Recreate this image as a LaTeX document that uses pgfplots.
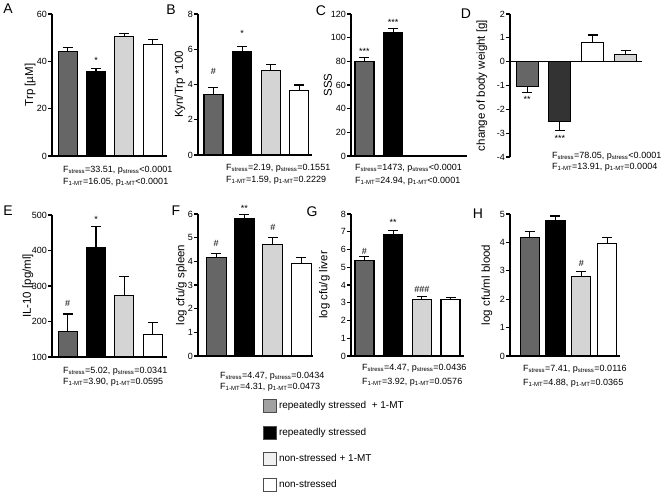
\documentclass[border=0pt]{standalone}
\usepackage{fontspec}
\setmainfont{Liberation Sans}
\usepackage{pgfplots}
\pgfplotsset{compat=1.18}

\definecolor{barA}{gray}{0.40}
\definecolor{barC}{gray}{0.83}
\definecolor{barDk}{gray}{0.20}
\definecolor{legA}{gray}{0.63}
\definecolor{legC}{gray}{0.94}

\pgfplotsset{
  panel/.style={
    scale only axis, height=142pt, anchor=south west,
    axis x line*=bottom, axis y line*=left,
    xtick=\empty, ymin=0,
    tick align=outside, major tick length=4pt,
    axis line style={line width=1.1pt, black},
    ytick style={line width=1.1pt, black},
    tick label style={font=\fontsize{9}{9}\selectfont},
    yticklabel style={inner sep=1pt},
    ylabel style={font=\fontsize{11.5}{12}\selectfont, anchor=center},
    /pgf/number format/assume math mode=true,
    clip mode=individual,
  },
  ylab/.style={ylabel style={at={(axis description cs:#1,0.5)}}},
  gbar/.style={
    ybar, bar shift=0pt, draw=black, line width=1.1pt, fill=#1,
    error bars/y dir=plus, error bars/y explicit,
    error bars/error bar style={line width=1.1pt, black},
    error bars/error mark options={rotate=90, line width=1.1pt, black, mark size=5pt},
  },
  gneg/.style={gbar=#1, error bars/y dir=minus},
}
\tikzset{
  note/.style={font=\fontsize{9}{9}\selectfont, inner sep=0pt},
  ftext/.style={font=\fontsize{9}{10}\selectfont, anchor=west, inner sep=0pt},
  letter/.style={font=\fontsize{14}{14}\selectfont, inner sep=0pt},
}

\begin{document}
\begin{tikzpicture}
\useasboundingbox (0,0) rectangle (661pt,-494pt);

% A
\begin{axis}[panel, at={(52pt,-156pt)}, width=115pt, xmin=0.45, xmax=4.5,
  ymax=60, ytick={0,20,40,60}, ylabel={Trp [µM]}, ylab=-0.191, bar width=19pt]
\addplot[gbar=barA] coordinates {(1,44.3) +- (0,1.4)};
\addplot[gbar=black] coordinates {(2,35.7) +- (0,1.3)};
\addplot[gbar=barC] coordinates {(3,50.4) +- (0,1.3)};
\addplot[gbar=white] coordinates {(4,47.2) +- (0,2.1)};
\node[note] at (axis cs:2,40.5) {*};
\end{axis}

% B
\begin{axis}[panel, at={(198pt,-155pt)}, width=114pt, height=141pt, xmin=0.46, xmax=4.44,
  ymax=8, ytick={0,2,4,6,8}, ylabel={Kyn/Trp *100}, ylab=-0.158, bar width=19pt]
\addplot[gbar=barA] coordinates {(1,3.44) +- (0,0.4)};
\addplot[gbar=black] coordinates {(2,5.86) +- (0,0.32)};
\addplot[gbar=barC] coordinates {(3,4.78) +- (0,0.37)};
\addplot[gbar=white] coordinates {(4,3.65) +- (0,0.32)};
\node[note] at (axis cs:1,4.77) {\#};
\node[note] at (axis cs:2,6.9) {*};
\end{axis}

% C
\begin{axis}[panel, at={(351pt,-156pt)}, width=116pt, xmin=0.53, xmax=4.57,
  ymax=120, ytick={0,20,...,120}, ylabel={SSS}, ylab=-0.198, bar width=19pt]
\addplot[gbar=barA] coordinates {(1,80) +- (0,3.5)};
\addplot[gbar=black] coordinates {(2,104.5) +- (0,3.5)};
\node[note] at (axis cs:1,88) {***};
\node[note] at (axis cs:2,113) {***};
\end{axis}

% D
\begin{axis}[panel, at={(510pt,-157pt)}, width=132pt, height=143pt, xmin=0.48, xmax=4.5,
  axis x line*=middle,
  ymin=-4, ymax=2, ytick={-4,-3,...,2}, ylabel={change of body weight [g]}, ylab=-0.212, bar width=22pt]
\addplot[gneg=barA] coordinates {(1,-1.05) +- (0,0.25)};
\addplot[gneg=barDk] coordinates {(2,-2.52) +- (0,0.35)};
\addplot[gbar=white] coordinates {(3,0.81) +- (0,0.31)};
\addplot[gbar=barC] coordinates {(4,0.29) +- (0,0.18)};
\node[note] at (axis cs:1,-1.6) {**};
\node[note] at (axis cs:2,-3.2) {***};
\end{axis}

% E
\begin{axis}[panel, at={(52pt,-357pt)}, width=115pt, xmin=0.45, xmax=4.5,
  ymin=100, ymax=500, ytick={100,200,...,500}, ylabel={IL-10 [pg/ml]}, ylab=-0.209, bar width=19pt]
\addplot[gbar=barA] coordinates {(1,172) +- (0,49)};
\addplot[gbar=black] coordinates {(2,408) +- (0,60)};
\addplot[gbar=barC] coordinates {(3,272) +- (0,55)};
\addplot[gbar=white] coordinates {(4,163) +- (0,35)};
\node[note] at (axis cs:1,251) {\#};
\node[note] at (axis cs:2,488) {*};
\end{axis}

% F
\begin{axis}[panel, at={(198pt,-356pt)}, width=115pt, xmin=0.36, xmax=4.42,
  ymax=6, ytick={0,...,6}, ylabel={log cfu/g spleen}, ylab=-0.145, bar width=20pt]
\addplot[gbar=barA] coordinates {(1,4.15) +- (0,0.2)};
\addplot[gbar=black] coordinates {(2,5.8) +- (0,0.17)};
\addplot[gbar=barC] coordinates {(3,4.72) +- (0,0.27)};
\addplot[gbar=white] coordinates {(4,3.92) +- (0,0.25)};
\node[note] at (axis cs:1,4.77) {\#};
\node[note] at (axis cs:2,6.25) {**};
\node[note] at (axis cs:3,5.45) {\#};
\end{axis}

% G
\begin{axis}[panel, at={(351pt,-356pt)}, width=113pt, xmin=0.53, xmax=4.47,
  ymax=8, ytick={0,...,8}, ylabel={log cfu/g liver}, ylab=-0.235, bar width=19pt]
\addplot[gbar=barA] coordinates {(1,5.36) +- (0,0.25)};
\addplot[gbar=black] coordinates {(2,6.87) +- (0,0.2)};
\addplot[gbar=barC] coordinates {(3,3.16) +- (0,0.18)};
\addplot[gbar=white] coordinates {(4,3.2) +- (0,0.12)};
\node[note] at (axis cs:1,5.88) {\#};
\node[note] at (axis cs:2,7.5) {**};
\node[note] at (axis cs:3,3.73) {\#\#\#};
\end{axis}

% H
\begin{axis}[panel, at={(510pt,-356pt)}, width=110pt, xmin=0.24, xmax=4.5,
  ymax=5, ytick={0,...,5}, ylabel={log cfu/ml blood}, ylab=-0.209, bar width=19pt]
\addplot[gbar=barA] coordinates {(1,4.18) +- (0,0.2)};
\addplot[gbar=black] coordinates {(2,4.78) +- (0,0.15)};
\addplot[gbar=barC] coordinates {(3,2.79) +- (0,0.2)};
\addplot[gbar=white] coordinates {(4,3.96) +- (0,0.2)};
\node[note] at (axis cs:3,3.27) {\#};
\end{axis}

% legend
\begin{axis}[hide axis, scale only axis, width=10pt, height=10pt,
  at={(263pt,-399pt)}, anchor=north west, xmin=0, xmax=1, ymin=0, ymax=1,
  legend cell align=left,
  legend style={at={(0,1)}, anchor=north west, draw=none, fill=none,
    inner sep=0pt, row sep=12.5pt, font=\fontsize{10}{10}\selectfont,
    nodes={inner sep=2pt}},
  legend image code/.code={\draw[#1, line width=0.8pt, draw=black!70] (0pt,-6.5pt) rectangle (13pt,6.5pt);}]
\addlegendimage{fill=legA}
\addlegendentry{repeatedly stressed \ + 1-MT}
\addlegendimage{fill=black}
\addlegendentry{repeatedly stressed}
\addlegendimage{fill=legC}
\addlegendentry{non-stressed + 1-MT}
\addlegendimage{fill=white}
\addlegendentry{non-stressed}
\end{axis}

% statistics
\node[ftext] at (63pt,-170pt) {F\textsubscript{stress}=33.51, p\textsubscript{stress}<0.0001};
\node[ftext] at (63pt,-182pt) {F\textsubscript{1-MT}=16.05, p\textsubscript{1-MT}<0.0001};
\node[ftext] at (226pt,-168pt) {F\textsubscript{stress}=2.19, p\textsubscript{stress}=0.1551};
\node[ftext] at (226pt,-180pt) {F\textsubscript{1-MT}=1.59, p\textsubscript{1-MT}=0.2229};
\node[ftext] at (355pt,-168pt) {F\textsubscript{stress}=1473, p\textsubscript{stress}<0.0001};
\node[ftext] at (355pt,-181pt) {F\textsubscript{1-MT}=24.94, p\textsubscript{1-MT}<0.0001};
\node[ftext] at (552pt,-156pt) {F\textsubscript{stress}=78.05, p\textsubscript{stress}<0.0001};
\node[ftext] at (552pt,-167pt) {F\textsubscript{1-MT}=13.91, p\textsubscript{1-MT}=0.0004};
\node[ftext] at (63pt,-371pt) {F\textsubscript{stress}=5.02, p\textsubscript{stress}=0.0341};
\node[ftext] at (63pt,-382pt) {F\textsubscript{1-MT}=3.90, p\textsubscript{1-MT}=0.0595};
\node[ftext] at (220pt,-376pt) {F\textsubscript{stress}=4.47, p\textsubscript{stress}=0.0434};
\node[ftext] at (220pt,-387pt) {F\textsubscript{1-MT}=4.31, p\textsubscript{1-MT}=0.0473};
\node[ftext] at (362pt,-368pt) {F\textsubscript{stress}=4.47, p\textsubscript{stress}=0.0436};
\node[ftext] at (362pt,-382pt) {F\textsubscript{1-MT}=3.92, p\textsubscript{1-MT}=0.0576};
\node[ftext] at (523pt,-369pt) {F\textsubscript{stress}=7.41, p\textsubscript{stress}=0.0116};
\node[ftext] at (523pt,-383pt) {F\textsubscript{1-MT}=4.88, p\textsubscript{1-MT}=0.0365};

% panel letters
\node[letter] at (8pt,-9pt) {A};
\node[letter] at (171pt,-10pt) {B};
\node[letter] at (321pt,-11pt) {C};
\node[letter] at (466pt,-14pt) {D};
\node[letter] at (8pt,-211pt) {E};
\node[letter] at (176pt,-211pt) {F};
\node[letter] at (312pt,-212pt) {G};
\node[letter] at (478pt,-214pt) {H};
\end{tikzpicture}
\end{document}
